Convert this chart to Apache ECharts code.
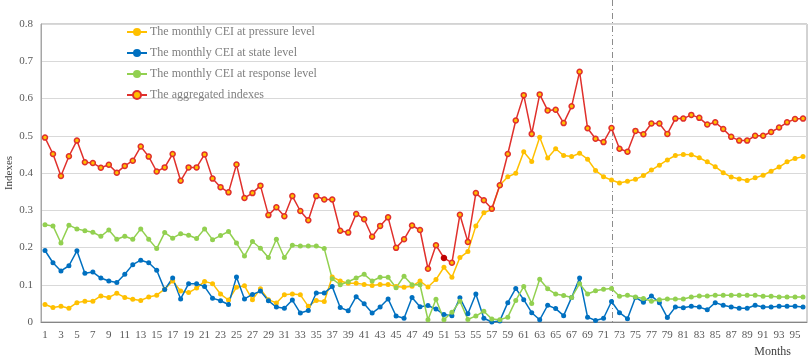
<!DOCTYPE html>
<html>
<head>
<meta charset="utf-8">
<script src="https://cdn.jsdelivr.net/npm/echarts@6/dist/echarts.min.js"></script>
<style>
  html, body { margin: 0; padding: 0; background: #fff; }
</style>
</head>
<body>
<div id="mainChart" style="width:809px;height:357px;"></div>
<script>
  var months = [];
  for (var m = 1; m <= 96; m++) months.push(String(m));

  var seriesNames = [
    'The monthly CEI at pressure level',
    'The monthly CEI at state level',
    'The monthly CEI at response level',
    'The aggregated indexes'
  ];

  var pressure = [0.047, 0.039, 0.042, 0.037, 0.052, 0.056, 0.056, 0.070, 0.066, 0.077,
    0.066, 0.061, 0.058, 0.067, 0.072, 0.088, 0.110, 0.083, 0.079, 0.091,
    0.109, 0.103, 0.075, 0.059, 0.093, 0.097, 0.060, 0.089, 0.060, 0.051,
    0.073, 0.075, 0.073, 0.042, 0.058, 0.055, 0.121, 0.110, 0.104, 0.104,
    0.101, 0.098, 0.101, 0.101, 0.095, 0.093, 0.096, 0.110, 0.094, 0.114,
    0.147, 0.120, 0.173, 0.189, 0.258, 0.293, 0.302, 0.367, 0.390, 0.399,
    0.457, 0.431, 0.496, 0.440, 0.465, 0.447, 0.444, 0.453, 0.437, 0.407,
    0.390, 0.381, 0.373, 0.378, 0.383, 0.393, 0.408, 0.421, 0.435, 0.447,
    0.450, 0.449, 0.441, 0.430, 0.417, 0.401, 0.389, 0.384, 0.380, 0.387,
    0.394, 0.405, 0.416, 0.430, 0.439, 0.444];

  var state = [0.192, 0.159, 0.137, 0.151, 0.191, 0.131, 0.134, 0.118, 0.110, 0.106,
    0.128, 0.154, 0.166, 0.159, 0.139, 0.087, 0.118, 0.062, 0.103, 0.103,
    0.095, 0.064, 0.057, 0.047, 0.121, 0.062, 0.074, 0.083, 0.057, 0.040,
    0.037, 0.059, 0.024, 0.031, 0.078, 0.078, 0.095, 0.039, 0.030, 0.068,
    0.049, 0.024, 0.040, 0.062, 0.016, 0.010, 0.066, 0.041, 0.044, 0.035,
    0.020, 0.017, 0.065, 0.022, 0.075, 0.010, 0.000, 0.003, 0.052, 0.090,
    0.060, 0.025, 0.006, 0.045, 0.036, 0.017, 0.066, 0.118, 0.013, 0.004,
    0.010, 0.055, 0.025, 0.009, 0.066, 0.053, 0.070, 0.052, 0.012, 0.040,
    0.038, 0.042, 0.040, 0.033, 0.052, 0.045, 0.040, 0.037, 0.037, 0.045,
    0.040, 0.040, 0.042, 0.042, 0.042, 0.040];

  var response = [0.261, 0.258, 0.212, 0.260, 0.250, 0.245, 0.241, 0.230, 0.247, 0.222,
    0.230, 0.222, 0.250, 0.222, 0.197, 0.240, 0.225, 0.237, 0.233, 0.224,
    0.250, 0.221, 0.232, 0.243, 0.212, 0.177, 0.216, 0.198, 0.173, 0.222,
    0.173, 0.206, 0.204, 0.204, 0.204, 0.197, 0.116, 0.100, 0.108, 0.118,
    0.128, 0.110, 0.120, 0.120, 0.092, 0.123, 0.100, 0.100, 0.006, 0.061,
    0.006, 0.026, 0.056, 0.007, 0.016, 0.029, 0.008, 0.006, 0.013, 0.058,
    0.095, 0.050, 0.115, 0.089, 0.075, 0.071, 0.066, 0.103, 0.075, 0.084,
    0.088, 0.090, 0.069, 0.072, 0.067, 0.063, 0.056, 0.060, 0.062, 0.062,
    0.062, 0.067, 0.070, 0.070, 0.072, 0.072, 0.072, 0.072, 0.072, 0.072,
    0.069, 0.069, 0.067, 0.067, 0.067, 0.067];

  var aggregated = [0.495, 0.451, 0.392, 0.445, 0.487, 0.429, 0.427, 0.414, 0.422, 0.401,
    0.419, 0.433, 0.471, 0.444, 0.404, 0.415, 0.451, 0.379, 0.415, 0.415,
    0.450, 0.385, 0.362, 0.348, 0.423, 0.333, 0.346, 0.366, 0.287, 0.308,
    0.284, 0.338, 0.298, 0.273, 0.338, 0.329, 0.329, 0.245, 0.240, 0.290,
    0.276, 0.229, 0.258, 0.281, 0.199, 0.222, 0.259, 0.247, 0.143, 0.206,
    0.172, 0.159, 0.288, 0.215, 0.346, 0.327, 0.304, 0.367, 0.451, 0.541,
    0.609, 0.505, 0.611, 0.568, 0.570, 0.534, 0.579, 0.672, 0.520, 0.492,
    0.483, 0.521, 0.465, 0.457, 0.513, 0.504, 0.533, 0.533, 0.505, 0.546,
    0.546, 0.556, 0.548, 0.530, 0.536, 0.518, 0.497, 0.487, 0.487, 0.500,
    0.500, 0.510, 0.522, 0.536, 0.545, 0.546];

  var splitMonth = '72';

  var fontFamily = '"Liberation Serif", "DejaVu Serif", serif';
  var mainChart = echarts.init(document.getElementById('mainChart'));

  var option = {
    animation: false,
    textStyle: { fontFamily: fontFamily },
    title: {
      text: 'Months',
      right: 18,
      bottom: -1,
      padding: 0,
      textStyle: { fontFamily: fontFamily, fontSize: 12, fontWeight: 'normal', color: '#404040' }
    },
    legend: {
      orient: 'vertical',
      left: 121,
      top: 21,
      itemWidth: 20,
      itemHeight: 10,
      itemGap: 9,
      textStyle: { fontFamily: fontFamily, fontSize: 12, color: '#7f7f7f', padding: [0, 0, 0, -2] },
      data: seriesNames
    },
    grid: {
      left: 41,
      right: 2,
      top: 24,
      bottom: 35,
      containLabel: false,
      outerBoundsMode: 'none',
      show: true,
      borderColor: '#a6a6a6',
      borderWidth: 1
    },
    xAxis: {
      type: 'category',
      data: months,
      boundaryGap: true,
      axisLine: { lineStyle: { color: '#868686' } },
      axisTick: { show: false },
      axisLabel: {
        interval: 1,
        fontFamily: fontFamily,
        fontSize: 11,
        color: '#595959',
        margin: 8
      }
    },
    yAxis: {
      type: 'value',
      min: 0,
      max: 0.8,
      interval: 0.1,
      axisLine: { show: true, lineStyle: { color: '#a6a6a6' } },
      axisTick: { show: false },
      axisLabel: {
        fontFamily: fontFamily,
        fontSize: 11,
        color: '#595959',
        margin: 8,
        formatter: function (v) { return v === 0 ? '0' : v.toFixed(1); }
      },
      splitLine: { lineStyle: { color: '#d9d9d9', width: 1 } }
    },
    series: [
      {
        name: seriesNames[0],
        type: 'line',
        data: pressure,
        symbol: 'circle',
        symbolSize: 5,
        showAllSymbol: true,
        color: '#FFC000',
        lineStyle: { width: 1.5, color: '#FFC000' },
        itemStyle: { color: '#FFC000' }
      },
      {
        name: seriesNames[1],
        type: 'line',
        data: state,
        symbol: 'circle',
        symbolSize: 5,
        showAllSymbol: true,
        color: '#0070C0',
        lineStyle: { width: 1.5, color: '#0070C0' },
        itemStyle: { color: '#0070C0' }
      },
      {
        name: seriesNames[2],
        type: 'line',
        data: response,
        symbol: 'circle',
        symbolSize: 5,
        showAllSymbol: true,
        color: '#92D050',
        lineStyle: { width: 1.5, color: '#92D050' },
        itemStyle: { color: '#92D050' }
      },
      {
        name: seriesNames[3],
        type: 'line',
        data: aggregated.map(function (v, i) {
          // month 51 is drawn as a solid dark marker in the source
          return i === 50 ? { value: v, itemStyle: { color: '#C00000', borderColor: '#C00000' } } : v;
        }),
        symbol: 'circle',
        symbolSize: 5,
        showAllSymbol: true,
        color: '#E0302C',
        lineStyle: { width: 1.5, color: '#E0302C' },
        itemStyle: { color: '#FFC000', borderColor: '#E0302C', borderWidth: 1.5 }
      }
    ]
  };

  mainChart.setOption(option);

  // dash-dot divider at month 72, running up past the plot top
  var divX = Math.round(mainChart.convertToPixel({ xAxisIndex: 0 }, splitMonth)) + 0.5;
  var baseY = mainChart.convertToPixel({ yAxisIndex: 0 }, 0);
  var midY = mainChart.convertToPixel({ yAxisIndex: 0 }, 0.4);
  mainChart.setOption({
    graphic: [{
      type: 'line',
      silent: true,
      z: 1,
      shape: { x1: divX, y1: 0, x2: divX, y2: baseY },
      style: { stroke: '#8c8c8c', lineWidth: 1, lineDash: [6, 3, 1, 3] }
    }, {
      // y-axis title
      type: 'text',
      silent: true,
      x: 9,
      y: midY,
      rotation: Math.PI / 2,
      style: {
        text: 'Indexes',
        font: '11px ' + fontFamily,
        fill: '#404040',
        align: 'center',
        verticalAlign: 'middle'
      }
    }]
  });
</script>
</body>
</html>
